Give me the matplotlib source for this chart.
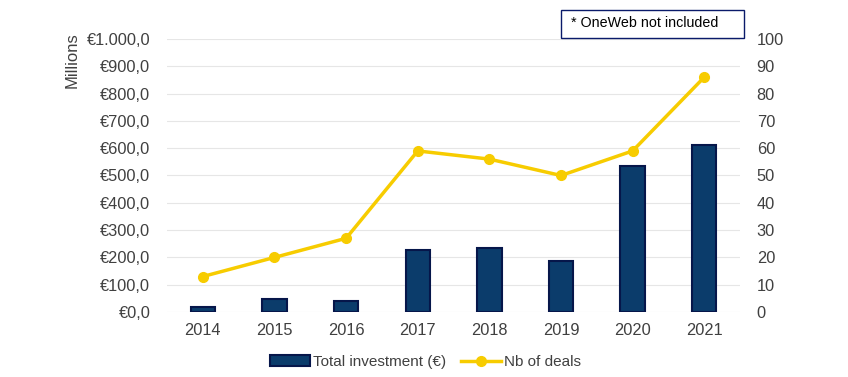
import matplotlib
matplotlib.use("Agg")
import matplotlib.pyplot as plt
from matplotlib.ticker import FuncFormatter, MultipleLocator
from matplotlib.patches import Rectangle

years = ["2014", "2015", "2016", "2017", "2018", "2019", "2020", "2021"]
investment = [19, 46, 39, 227, 233, 188, 536, 612]
deals = [13, 20, 27, 59, 56, 50, 59, 86]

plt.rcParams['font.family'] = ['Liberation Sans', 'DejaVu Sans']

fig = plt.figure(figsize=(8.48, 3.77), dpi=100)
ax = fig.add_axes([0.197, 0.1724, 0.6757, 0.7242])
ax2 = ax.twinx()

x = list(range(len(years)))
ax.bar(x, investment, width=0.34, color="#0b3c6b", edgecolor="#06164a",
       linewidth=1.5, label="Total investment (€)", zorder=3)
ax2.plot(x, deals, color="#f7cc00", linewidth=2.5, marker="o", markersize=7,
         label="Nb of deals", zorder=4)

ax.set_xlim(-0.5, 7.5)
ax.set_ylim(0, 1000)
ax2.set_ylim(0, 100)
ax.yaxis.set_major_locator(MultipleLocator(100))
ax2.yaxis.set_major_locator(MultipleLocator(10))

def euro(v, pos):
    s = f"{v:,.1f}".replace(",", "X").replace(".", ",").replace("X", ".")
    return "€" + s
ax.yaxis.set_major_formatter(FuncFormatter(euro))

ax.set_xticks(x)
ax.set_xticklabels(years)
ax.grid(axis="y", color="#e6e6e6", linewidth=0.8, zorder=0)
ax.set_axisbelow(True)
for a in (ax, ax2):
    for sp in a.spines.values():
        sp.set_visible(False)
    a.tick_params(length=0, labelsize=11.8, colors="#404040")
ax.tick_params(axis="y", pad=12)
ax.tick_params(axis="x", pad=8)
ax2.tick_params(axis="y", pad=12)

fig.text(0.085, 0.915, "Millions", rotation=90, ha="center", va="top",
         fontsize=12, color="#404040")

h1, l1 = ax.get_legend_handles_labels()
h2, l2 = ax2.get_legend_handles_labels()
fig.legend(h1 + h2, l1 + l2, loc="center", bbox_to_anchor=(0.502, 0.04), ncol=2,
           frameon=False, fontsize=11, handlelength=2.6, handletextpad=0.2,
           columnspacing=1.0, labelcolor="#404040")

fig.patches.append(Rectangle((561 / 848, 1 - 38 / 377), 183 / 848, 28 / 377,
                             transform=fig.transFigure, facecolor="white",
                             edgecolor="#0a1a6a", linewidth=1.0))
fig.text(645 / 848, 1 - 23 / 377, "* OneWeb not included", ha="center", va="center",
         fontsize=10.3, color="black")

fig.savefig("out.png", dpi=100)
